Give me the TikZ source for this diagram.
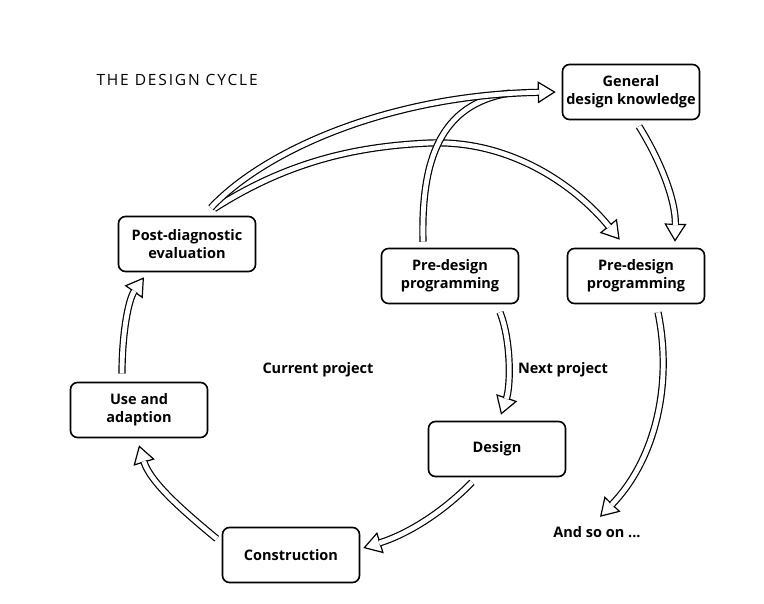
\documentclass[tikz,border=0pt]{standalone}
\usepackage{fontspec}
\setmainfont{Open Sans}
\usetikzlibrary{arrows.meta,calc}
\tikzset{
  box/.style={draw, line width=1.6pt, rounded corners=7pt, minimum width=137pt, minimum height=55pt, align=center, font=\fontsize{14.5}{18}\selectfont\bfseries},
  lbl/.style={font=\fontsize{14.5}{18}\selectfont\bfseries},
  hollow/.style={draw=black, double=white, double distance=4.8pt, line width=1.2pt, line cap=butt},
  tipline/.style={draw=black, line width=1.2pt, -{Triangle[fill=white, length=18pt, width=22pt, line width=1.2pt]}},
}
\newcommand\hollowarrow[1]{\draw[tipline] #1; \draw[hollow, shorten >=16.6pt] #1;}
\begin{document}
\begin{tikzpicture}[x=1pt,y=-1pt]
\useasboundingbox (0,0) rectangle (764,604);
\fill[white] (0,0) rectangle (764,604);

\node[anchor=west, font=\fontsize{15.5}{18}\selectfont\addfontfeatures{LetterSpace=12}] (title) at (93,80) {THE DESIGN CYCLE};

\node[box] (gen) at (631,92) {General\\design knowledge};
\node[box] (post) at (187,244) {Post-diagnostic\\evaluation};
\node[box] (pdl) at (450,276) {Pre-design\\programming};
\node[box] (pdr) at (636,276) {Pre-design\\programming};
\node[box] (use) at (139,410) {Use and\\adaption};
\node[box] (des) at (497,449) {Design};
\node[box] (con) at (291,555) {Construction};

\node[lbl] (cur) at (318,370) {Current project};
\node[lbl] (next) at (563,370) {Next project};
\node[lbl] (so) at (597,532) {And so on ...};

% lower fork arrow: Post -> right Pre-design
\hollowarrow{($(post.north)+(27,-7)$) .. controls (290,160) and (360,146) .. (430,143)
   .. controls (510,140) and (575,185) .. ($(pdr.north west)+(53,-8)$)}
% left Pre-design up into the knowledge arrow
\draw[hollow] ($(pdl.north)+(-27,-6)$) .. controls (421,160) and (440,104) .. (510,93);
% upper fork arrow: Post -> General
\hollowarrow{($(post.north)+(24,-8)$) .. controls (265,150) and (390,95) .. ($(gen.west)+(-6,0)$)}

% General -> right Pre-design
\hollowarrow{($(gen.south)+(8,6)$) .. controls (660,160) and (676,200) .. ($(pdr.north)+(39,-6)$)}
% left Pre-design -> Design
\hollowarrow{($(pdl.south)+(50,8)$) .. controls (511,340) and (511,385) .. ($(des.north)+(4,-6)$)}
% right Pre-design -> And so on
\hollowarrow{($(pdr.south)+(22,8)$) .. controls (673,385) and (655,460) .. ($(so.north)+(3,-6)$)}
% Design -> Construction
\hollowarrow{($(des.south)+(-25,5)$) .. controls (440,515) and (405,535) .. ($(con.east)+(3,-7)$)}
% Construction -> Use
\hollowarrow{($(con.north west)+(-5,12)$) .. controls (182,510) and (150,482) .. ($(use.south)+(0,7)$)}
% Use -> Post
\hollowarrow{($(use.north)+(-17,-8)$) .. controls (122,335) and (128,300) .. ($(post.south)+(-43,5)$)}
\end{tikzpicture}
\end{document}
